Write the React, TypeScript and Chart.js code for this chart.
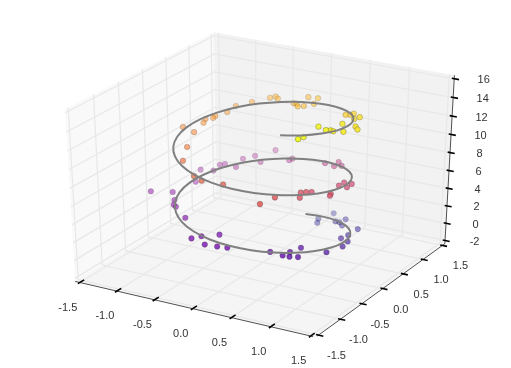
import React, { useEffect, useRef } from "react";
import { Chart, registerables } from "chart.js";

Chart.register(...registerables);

const WIDTH = 511;
const HEIGHT = 368;

const xTicks = [-1.5, -1.0, -0.5, 0.0, 0.5, 1.0, 1.5];
const yTicks = [-1.5, -1.0, -0.5, 0.0, 0.5, 1.0, 1.5];
const zTicks = [-2, 0, 2, 4, 6, 8, 10, 12, 14, 16];
const xTickLabels = ["-1.5", "-1.0", "-0.5", "0.0", "0.5", "1.0", "1.5"];
const yTickLabels = ["-1.5", "-1.0", "-0.5", "0.0", "0.5", "1.0", "1.5"];
const zTickLabels = ["-2", "0", "2", "4", "6", "8", "10", "12", "14", "16"];

const lineX = [0, .247, .479, .682, .841, .949, .997, .984, .909, .778, .598, .382, .141, -.108, -.351, -.572, -.757, -.895, -.978, -.999, -.959, -.859, -.706, -.508, -.279, -.033, .215, .45, .657, .823, .938, .995, .989, .922, .798, .624, .412, .174, -.075, -.32, -.544, -.736, -.88, -.97, -1, -.967, -.875, -.727, -.537, -.31, -.066, .184, .42, .632, .804, .926, .991, .995, .935, .819, .65];
const lineY = [1, .969, .878, .732, .54, .315, .071, -.178, -.416, -.628, -.801, -.924, -.99, -.994, -.936, -.821, -.654, -.446, -.211, .038, .284, .512, .709, .861, .96, .999, .977, .893, .754, .569, .347, .1, -.146, -.388, -.602, -.782, -.911, -.985, -.997, -.947, -.839, -.677, -.476, -.243, .004, .254, .483, .687, .844, .951, .998, .983, .907, .775, .595, .379, .137, -.112, -.355, -.575, -.76];
const lineZ = [0, .25, .5, .75, 1, 1.25, 1.5, 1.75, 2, 2.25, 2.5, 2.75, 3, 3.25, 3.5, 3.75, 4, 4.25, 4.5, 4.75, 5, 5.25, 5.5, 5.75, 6, 6.25, 6.5, 6.75, 7, 7.25, 7.5, 7.75, 8, 8.25, 8.5, 8.75, 9, 9.25, 9.5, 9.75, 10, 10.25, 10.5, 10.75, 11, 11.25, 11.5, 11.75, 12, 12.25, 12.5, 12.75, 13, 13.25, 13.5, 13.75, 14, 14.25, 14.5, 14.75, 15];

const dotX = [.308, .236, .286, .482, .536, .608, .554, .852, .878, .885, .996, 1.049, 1.007, .758, .865, .715, .777, .727, .556, .15, .068, -.079, -.09, -.204, -.267, -.615, -.812, -.866, -.938, -1.05, -1.278, -.956, -1.074, -.892, -.925, -.886, -.687, -.756, -.649, -.49, -.499, -.194, -.186, .283, .455, .435, .525, .938, .942, 1.039, 1.035, 1.069, 1.046, .838, .823, .779, .847, .642, .637, .028, -.199, -.309, -.625, -.736, -.883, -1.041, -.874, -.92, -.824, -.835, -.786, -.765, -.636, -.492, -.458, -.399, -.164, -.085, -.031, .021, -.083, .069, .123, .685, .729, .782, .907, .931, .942, 1.071, 1.135, .797, .921, .931, .972, 1.073, .837, .857];
const dotY = [1.125, .884, .768, .85, .846, .777, .965, .706, .426, .24, .193, -.025, -.327, -.466, -.724, -.638, -.76, -.825, -.803, -1.049, -1.13, -1.152, -.816, -1.014, -1.125, -.686, -.565, -.524, -.392, -.246, -.353, .108, .412, .399, .6, .649, .564, .841, .939, .792, 1.157, .943, 1.007, .936, .836, .982, .888, .062, .175, .061, .18, -.388, -.328, -.385, -.482, -.523, -.666, -.853, -1.169, -.92, -.997, -.975, -.691, -.417, -.025, -.006, .168, .288, .296, .364, .546, .704, .849, 1.014, 1.082, 1.031, .984, .911, .84, .888, 1.181, 1.131, .941, .654, .68, .663, .438, .525, .101, .164, .09, -.178, -.235, -.148, -.161, -.118, -.701, -.616];
const dotZ = [.25, .25, .25, .5, .5, .5, .5, .75, 1, 1.25, 1.25, 1.5, 1.75, 2.25, 2.25, 2.25, 2.25, 2.5, 2.5, 3, 3.25, 3.25, 3.25, 3.5, 3.5, 3.75, 4.25, 4.25, 4.25, 4.5, 4.5, 4.75, 5, 5.25, 5.25, 5.25, 5.5, 5.5, 5.75, 5.75, 6, 6, 6, 6.5, 6.75, 6.75, 6.75, 7.75, 7.75, 7.75, 7.75, 8.25, 8.25, 8.25, 8.5, 8.5, 8.5, 8.75, 9, 9.25, 9.5, 9.75, 10, 10.5, 10.75, 11, 11.25, 11.25, 11.5, 11.5, 11.5, 11.75, 12, 12.25, 12.25, 12.25, 12.25, 12.5, 12.5, 12.5, 12.5, 12.75, 12.75, 13.25, 13.25, 13.5, 13.75, 13.75, 14.25, 14, 14, 14.5, 14.5, 14.25, 14.25, 14.25, 14.75, 14.75];

const plasma = ["#0d0887", "#41049d", "#6a00a8", "#8f0da4", "#b12a90", "#cc4778", "#e16462", "#f1844b", "#fca636", "#fcce25", "#f0f921"];

// View of the 3D box (elevation 30, azimuth -60, distance 10)
const EL = (30 * Math.PI) / 180;
const AZ = (-60 * Math.PI) / 180;
const DIST = 10;
const n = [Math.cos(AZ) * Math.cos(EL), Math.sin(AZ) * Math.cos(EL), Math.sin(EL)];
const u = [-Math.sin(AZ), Math.cos(AZ), 0];
const v = [-Math.cos(AZ) * Math.sin(EL), -Math.sin(AZ) * Math.sin(EL), Math.cos(EL)];
const X0 = -1.5, X1 = 1.5, Y0 = -1.5, Y1 = 1.5, Z0 = -2, Z1 = 16;
const MX = (X1 - X0) / 48, MY = (Y1 - Y0) / 48, MZ = (Z1 - Z0) / 48;
const BX0 = X0 - MX, BX1 = X1 + MX, BY0 = Y0 - MY, BY1 = Y1 + MY, BZ0 = Z0 - MZ, BZ1 = Z1 + MZ;
const CX = 263, CY = 179.3, KX = 2665, KY = 1887;

function rel(x: number, y: number, z: number) {
  return [(x - X0) / (X1 - X0) - 0.5, (y - Y0) / (Y1 - Y0) - 0.5, (z - Z0) / (Z1 - Z0) - 0.5];
}
const dot3 = (a: number[], b: number[]) => a[0] * b[0] + a[1] * b[1] + a[2] * b[2];
function depth(x: number, y: number, z: number) {
  return dot3(n, rel(x, y, z));
}
function project(x: number, y: number, z: number) {
  const p = rel(x, y, z);
  const w = DIST - dot3(n, p);
  return { x: CX + (KX * dot3(u, p)) / w, y: CY - (KY * dot3(v, p)) / w };
}
function hexRgb(h: string) {
  return [1, 3, 5].map((i) => parseInt(h.slice(i, i + 2), 16));
}
function plasmaAt(f: number) {
  const t = Math.max(0, Math.min(1, f)) * (plasma.length - 1);
  const i = Math.min(plasma.length - 2, Math.floor(t));
  const a = hexRgb(plasma[i]), b = hexRgb(plasma[i + 1]);
  return [0, 1, 2].map((k) => Math.round(a[k] + (b[k] - a[k]) * (t - i)));
}

function poly(points: number[][], color: string, width: number, order: number) {
  return {
    type: "line",
    data: points.map((q) => project(q[0], q[1], q[2])),
    borderColor: color,
    borderWidth: width,
    pointRadius: 0,
    order,
    clip: false,
    tension: 0,
  };
}

const GRID = "#e8e8e8";
const AXIS = "#262626";

function frameDatasets() {
  const out: any[] = [];
  for (const t of xTicks) out.push(poly([[t, BY0, BZ0], [t, BY1, BZ0], [t, BY1, BZ1]], GRID, 1.25, 5));
  for (const t of yTicks) out.push(poly([[BX1, t, BZ0], [BX0, t, BZ0], [BX0, t, BZ1]], GRID, 1.25, 5));
  for (const t of zTicks) out.push(poly([[BX0, BY0, t], [BX0, BY1, t], [BX1, BY1, t]], GRID, 1.25, 5));
  out.push(poly([[BX0, BY0, BZ0], [X1 + 0.03, BY0, BZ0]], AXIS, 0.8, 3));
  out.push(poly([[BX1, Y0 - 0.03, BZ0], [BX1, BY1, BZ0]], AXIS, 0.8, 3));
  out.push(poly([[BX1, BY1, BZ0], [BX1, BY1, BZ1]], AXIS, 0.8, 3));
  for (const t of xTicks) out.push(poly([[t, BY0 - 0.04, BZ0], [t, BY0 + 0.09, BZ0]], "#000000", 1.6, 2));
  for (const t of yTicks) out.push(poly([[BX1 - 0.03, t, BZ0], [BX1 + 0.06, t, BZ0]], "#000000", 1.6, 2));
  for (const t of zTicks) out.push(poly([[BX1 - 0.03, BY1, t], [BX1 + 0.06, BY1, t]], "#000000", 1.6, 2));
  return out;
}

function scatterDataset() {
  const depths = dotX.map((_, i) => depth(dotX[i], dotY[i], dotZ[i]));
  const dMin = Math.min(...depths), dMax = Math.max(...depths);
  const zMin = Math.min(...dotZ), zMax = Math.max(...dotZ);
  const order = dotX.map((_, i) => i).sort((a, b) => depths[a] - depths[b]);
  const fill: string[] = [], edge: string[] = [];
  for (const i of order) {
    const alpha = 1 - (0.7 * (dMax - depths[i])) / (dMax - dMin);
    const c = plasmaAt((dotZ[i] - zMin) / (zMax - zMin));
    fill.push(`rgba(${c[0]},${c[1]},${c[2]},${alpha})`);
    edge.push(`rgba(40,40,40,${alpha * 0.6})`);
  }
  return {
    type: "scatter",
    data: order.map((i) => project(dotX[i], dotY[i], dotZ[i])),
    backgroundColor: fill,
    borderColor: edge,
    borderWidth: 0.5,
    pointRadius: 2.8,
    order: 1,
    clip: false,
  };
}

function helixDataset() {
  return {
    type: "line",
    data: lineX.map((_, i) => project(lineX[i], lineY[i], lineZ[i])),
    borderColor: "#808080",
    borderWidth: 2,
    pointRadius: 0,
    tension: 0.3,
    order: 0,
    clip: false,
  };
}

const panesPlugin = {
  id: "panes",
  beforeDatasetsDraw(chart: any) {
    const { ctx, scales } = chart;
    const fillPoly = (pts: number[][], color: string) => {
      ctx.save();
      ctx.beginPath();
      pts.forEach((q, i) => {
        const s = project(q[0], q[1], q[2]);
        const px = scales.x.getPixelForValue(s.x), py = scales.y.getPixelForValue(s.y);
        if (i) ctx.lineTo(px, py);
        else ctx.moveTo(px, py);
      });
      ctx.closePath();
      ctx.fillStyle = color;
      ctx.fill();
      ctx.restore();
    };
    fillPoly([[BX0, BY0, BZ0], [BX0, BY1, BZ0], [BX0, BY1, BZ1], [BX0, BY0, BZ1]], "#f9f9f9");
    fillPoly([[BX0, BY1, BZ0], [BX1, BY1, BZ0], [BX1, BY1, BZ1], [BX0, BY1, BZ1]], "#f2f2f2");
    fillPoly([[BX0, BY0, BZ0], [BX1, BY0, BZ0], [BX1, BY1, BZ0], [BX0, BY1, BZ0]], "#f5f5f5");
  },
};

const labelsPlugin = {
  id: "tickText",
  afterDatasetsDraw(chart: any) {
    const { ctx, scales } = chart;
    ctx.save();
    ctx.font = '11px "Liberation Sans", Arial, sans-serif';
    ctx.fillStyle = "#333333";
    ctx.textAlign = "center";
    ctx.textBaseline = "middle";
    const put = (s: { x: number; y: number }, dx: number, dy: number, text: string) => {
      ctx.fillText(text, scales.x.getPixelForValue(s.x) + dx, scales.y.getPixelForValue(s.y) + dy);
    };
    xTicks.forEach((t, i) => put(project(t, BY0, BZ0), -12, 25, xTickLabels[i]));
    yTicks.forEach((t, i) => put(project(BX1, t, BZ0), 18, 21, yTickLabels[i]));
    zTicks.forEach((t, i) => put(project(BX1, BY1, t), 29.5, 1.5, zTickLabels[i]));
    ctx.restore();
  },
};

export default function App() {
  const ref = useRef<HTMLCanvasElement>(null);
  useEffect(() => {
    document.body.style.margin = "0";
    const chart = new Chart(ref.current as HTMLCanvasElement, {
      type: "scatter",
      data: { datasets: [helixDataset(), scatterDataset(), ...frameDatasets()] as any },
      options: {
        animation: false,
        responsive: false,
        layout: { padding: 0, autoPadding: false },
        plugins: { legend: { display: false }, tooltip: { enabled: false } },
        scales: {
          x: { type: "linear", min: 0, max: WIDTH, display: false },
          y: { type: "linear", min: 0, max: HEIGHT, reverse: true, display: false },
        },
      },
      plugins: [panesPlugin, labelsPlugin],
    } as any);
    return () => chart.destroy();
  }, []);
  return <canvas ref={ref} width={WIDTH} height={HEIGHT} style={{ display: "block" }} />;
}
